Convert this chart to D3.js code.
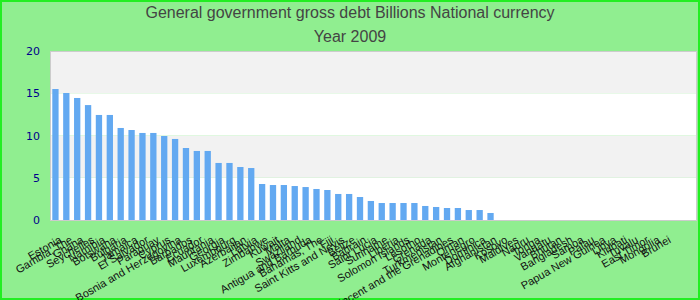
<!DOCTYPE html>
<html>
<head>
<meta charset="utf-8">
<script src="https://cdn.jsdelivr.net/npm/d3@7"></script>
<style>
body { margin: 0; }
svg { display: block; font-family: "Liberation Sans", Arial, sans-serif; }
</style>
</head>
<body>
<div id="chart"></div>
<script>
var width  = 700;
var height = 300;

var countries = ["Estonia","Gambia, The","Ghana","Seychelles","Namibia","Botswana","Bulgaria","Jamaica","El Salvador","Paraguay",
                 "Cyprus","Bosnia and Herzegovina","Barbados","Ecuador","Mauritania","Georgia","Luxembourg","Azerbaijan","Latvia","Zimbabwe",
                 "Kuwait","Malta","Swaziland","Antigua and Barbuda","Bahamas, The","Fiji","Saint Kitts and Nevis","Belize","Bahrain","Saint Lucia",
                 "Suriname","Liberia","Solomon Islands","Lesotho","Grenada","Turkmenistan","Saint Vincent and the Grenadines","Oman","Montenegro","Dominica",
                 "Afghanistan","Kosovo","Maldives","Nauru","Tonga","Vanuatu","Bhutan","Bangladesh","Samoa","Palau",
                 "Papua New Guinea","Libya","Kiribati","Tuvalu","East Timor","Mongolia","Brunei"];

// billions of national currency, 2009 (no value for the last ones)
var debt = [15.5,15.03,14.44,13.6,12.43,12.43,10.89,10.65,10.3,10.3,
            9.94,9.59,8.52,8.17,8.17,6.75,6.75,6.27,6.15,4.26,
            4.14,4.14,4.02,3.9,3.67,3.55,3.08,3.08,2.72,2.25,
            2.01,2.01,2.01,2.01,1.66,1.54,1.42,1.42,1.18,1.18,
            0.83];

var yTicks = [0,5,10,15,20];

var titleLines = ["General government gross debt Billions National currency", "Year 2009"];

var margin = {left:50, right:3, top:51, bottom:80};

var svg = d3.select("#chart").append("svg").attr("width", width).attr("height", height);

svg.append("rect").attr("x",1).attr("y",1).attr("width",width-2).attr("height",height-2)
   .attr("fill","#90ee90").attr("stroke","#22ee22").attr("stroke-width",2);

svg.selectAll("text.title").data(titleLines).enter().append("text").attr("class","title")
   .attr("x", width/2).attr("y", function(d,i){return 18 + i*24;})
   .attr("text-anchor","middle").attr("font-size","16px").attr("fill","#444")
   .text(function(d){return d;});

var plotW = width - margin.left - margin.right;
var plotH = height - margin.top - margin.bottom;

var x = d3.scaleBand().domain(countries).range([margin.left, margin.left + 620]).paddingInner(0.42).paddingOuter(0.21);
var y = d3.scaleLinear().domain([0,20]).range([margin.top + plotH, margin.top]);

var plot = svg.append("g");

// alternating bands
plot.selectAll("rect.band").data(d3.pairs(yTicks)).enter().append("rect").attr("class","band")
    .attr("x", margin.left).attr("width", plotW)
    .attr("y", function(d){return y(d[1]);})
    .attr("height", function(d){return y(d[0]) - y(d[1]);})
    .attr("fill", function(d,i){return i % 2 ? "#f2f2f2" : "#ffffff";});

plot.append("rect").attr("x", margin.left+0.5).attr("y", margin.top+0.5).attr("width", plotW-1).attr("height", plotH)
    .attr("fill","none").attr("stroke","#cccccc");

plot.selectAll("rect.bar").data(debt).enter().append("rect").attr("class","bar")
    .attr("x", function(d,i){return x(countries[i]);})
    .attr("width", x.bandwidth())
    .attr("y", function(d){return y(d);})
    .attr("height", function(d){return y(0) - y(d);})
    .attr("fill","#63a9f1");

var yAxis = d3.axisLeft(y).tickValues(yTicks).tickSize(0).tickPadding(10);
var yg = svg.append("g").attr("transform","translate("+margin.left+",0)").call(yAxis);
yg.select(".domain").remove();
yg.selectAll("text").attr("fill","#00008b").attr("font-size","11px").attr("font-family","DejaVu Sans, sans-serif");

var xAxis = d3.axisBottom(x).tickSize(0).tickPadding(0);
var xg = svg.append("g").attr("transform","translate(0,"+(margin.top+plotH)+")").call(xAxis);
xg.select(".domain").remove();
xg.selectAll("text")
  .attr("font-size","11px").attr("fill","#111").attr("font-family","Liberation Sans, Arial, sans-serif")
  .attr("text-anchor","end").attr("y",0).attr("dy",0)
  .attr("transform","translate(7,22) rotate(-30)");
</script>
</body>
</html>
